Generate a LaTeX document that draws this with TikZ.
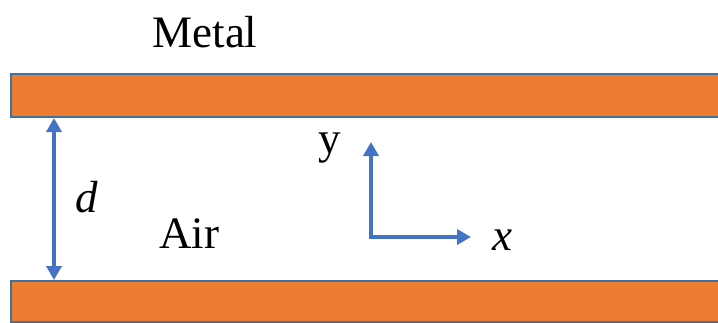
\documentclass[tikz,border=0pt]{standalone}
\usepackage{fontspec}
\setmainfont{Liberation Serif}
\usetikzlibrary{arrows.meta}
\definecolor{platefill}{RGB}{237, 125, 49}
\definecolor{plateedge}{RGB}{65, 113, 156}
\definecolor{arrowblue}{RGB}{68, 114, 196}

\begin{document}
\begin{tikzpicture}[x=1pt, y=-1pt, every node/.style={font=\fontsize{45}{48}\selectfont, inner sep=0pt},
    plate/.style={draw=plateedge, line width=2pt, fill=platefill, anchor=north west, minimum width=720pt},
    axis/.style={{Triangle[length=14pt,width=15pt]}-{Triangle[length=14pt,width=15pt]}, line width=3.6pt, arrowblue}]
        \clip (0,0) rectangle (718,322);
        \node[plate, minimum height=43pt] (topplate) at (10,73) {};
        \node[plate, minimum height=41pt] (botplate) at (10,280) {};
        \node[anchor=base] (metal) at (205,47) {Metal};
        \node[anchor=base] (air) at (189,248) {Air};
        \node[anchor=base] (dlabel) at (87,212) {\textit{d}};
        \node[anchor=base] (ylabel) at (330,153) {y};
        \node[anchor=base] (xlabel) at (502,250) {\textit{x}};
        % plate gap
        \coordinate (gap) at (54,0);
        \draw[axis] (topplate.south -| gap) -- (botplate.north -| gap);
        % axes
        \coordinate (origin) at (371,237);
        \coordinate (ytip) at (371,142);
        \coordinate (xtip) at (471,237);
        \draw[axis, line join=miter] (ytip) -- (origin) -- (xtip);
      \end{tikzpicture}
\end{document}
